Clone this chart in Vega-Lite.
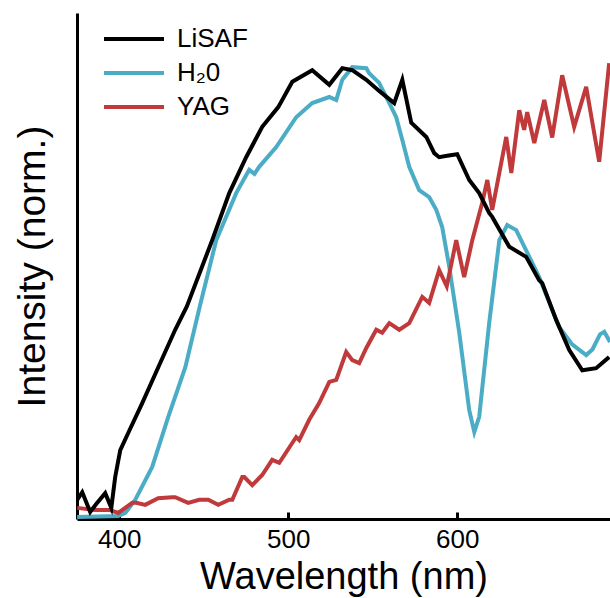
{
  "$schema": "https://vega.github.io/schema/vega-lite/v6.json",
  "width": 533,
  "height": 506,
  "autosize": "none",
  "padding": {"left": 77, "top": 13, "right": 0, "bottom": 79},
  "background": "white",
  "config": {
    "view": {"stroke": null},
    "font": "Liberation Sans",
    "axis": {"grid": false, "domainColor": "black", "domainWidth": 3, "tickColor": "black", "tickWidth": 3, "labelColor": "black", "titleColor": "black", "titleFontWeight": "normal", "labelFont": "Liberation Sans", "titleFont": "Liberation Sans"}
  },
  "data": {"values": [
    {"s":"H₂0","x":375.1,"y":0.004},{"s":"H₂0","x":399.4,"y":0.006},{"s":"H₂0","x":403.6,"y":0.012},{"s":"H₂0","x":409.5,"y":0.038},{"s":"H₂0","x":419.5,"y":0.103},{"s":"H₂0","x":429.0,"y":0.202},{"s":"H₂0","x":439.1,"y":0.300},{"s":"H₂0","x":448.0,"y":0.425},{"s":"H₂0","x":457.4,"y":0.551},{"s":"H₂0","x":469.2,"y":0.644},{"s":"H₂0","x":476.9,"y":0.690},{"s":"H₂0","x":480.0,"y":0.682},{"s":"H₂0","x":482.8,"y":0.696},{"s":"H₂0","x":492.9,"y":0.735},{"s":"H₂0","x":504.7,"y":0.794},{"s":"H₂0","x":514.2,"y":0.822},{"s":"H₂0","x":524.3,"y":0.834},{"s":"H₂0","x":528.4,"y":0.828},{"s":"H₂0","x":532.0,"y":0.868},{"s":"H₂0","x":537.9,"y":0.893},{"s":"H₂0","x":546.2,"y":0.891},{"s":"H₂0","x":547.9,"y":0.881},{"s":"H₂0","x":553.8,"y":0.862},{"s":"H₂0","x":559.8,"y":0.822},{"s":"H₂0","x":563.9,"y":0.794},{"s":"H₂0","x":567.5,"y":0.749},{"s":"H₂0","x":571.6,"y":0.696},{"s":"H₂0","x":577.5,"y":0.650},{"s":"H₂0","x":583.4,"y":0.636},{"s":"H₂0","x":587.6,"y":0.611},{"s":"H₂0","x":591.1,"y":0.577},{"s":"H₂0","x":595.3,"y":0.498},{"s":"H₂0","x":601.2,"y":0.368},{"s":"H₂0","x":607.1,"y":0.215},{"s":"H₂0","x":610.1,"y":0.172},{"s":"H₂0","x":613.0,"y":0.202},{"s":"H₂0","x":618.9,"y":0.387},{"s":"H₂0","x":624.9,"y":0.551},{"s":"H₂0","x":629.6,"y":0.581},{"s":"H₂0","x":634.9,"y":0.571},{"s":"H₂0","x":648.5,"y":0.478},{"s":"H₂0","x":660.4,"y":0.379},{"s":"H₂0","x":668.0,"y":0.345},{"s":"H₂0","x":676.3,"y":0.324},{"s":"H₂0","x":680.0,"y":0.335},{"s":"H₂0","x":684.5,"y":0.365},{"s":"H₂0","x":687.0,"y":0.370},{"s":"H₂0","x":690.4,"y":0.350},
    {"s":"YAG","x":375.1,"y":0.022},{"s":"YAG","x":385.8,"y":0.018},{"s":"YAG","x":394.1,"y":0.018},{"s":"YAG","x":399.4,"y":0.012},{"s":"YAG","x":407.7,"y":0.032},{"s":"YAG","x":410.1,"y":0.032},{"s":"YAG","x":415.4,"y":0.028},{"s":"YAG","x":423.0,"y":0.041},{"s":"YAG","x":431.4,"y":0.043},{"s":"YAG","x":433.1,"y":0.043},{"s":"YAG","x":440.8,"y":0.032},{"s":"YAG","x":447.3,"y":0.038},{"s":"YAG","x":452.7,"y":0.038},{"s":"YAG","x":458.6,"y":0.028},{"s":"YAG","x":465.1,"y":0.038},{"s":"YAG","x":466.9,"y":0.038},{"s":"YAG","x":472.8,"y":0.083},{"s":"YAG","x":474.0,"y":0.083},{"s":"YAG","x":478.7,"y":0.067},{"s":"YAG","x":484.6,"y":0.087},{"s":"YAG","x":490.5,"y":0.117},{"s":"YAG","x":494.7,"y":0.111},{"s":"YAG","x":504.7,"y":0.162},{"s":"YAG","x":506.5,"y":0.156},{"s":"YAG","x":512.4,"y":0.196},{"s":"YAG","x":518.3,"y":0.229},{"s":"YAG","x":524.3,"y":0.271},{"s":"YAG","x":528.4,"y":0.275},{"s":"YAG","x":534.3,"y":0.330},{"s":"YAG","x":537.9,"y":0.314},{"s":"YAG","x":542.0,"y":0.308},{"s":"YAG","x":546.2,"y":0.338},{"s":"YAG","x":552.1,"y":0.374},{"s":"YAG","x":555.6,"y":0.368},{"s":"YAG","x":559.8,"y":0.387},{"s":"YAG","x":565.7,"y":0.374},{"s":"YAG","x":571.6,"y":0.387},{"s":"YAG","x":579.3,"y":0.439},{"s":"YAG","x":583.4,"y":0.427},{"s":"YAG","x":589.3,"y":0.492},{"s":"YAG","x":593.8,"y":0.460},{"s":"YAG","x":599.4,"y":0.551},{"s":"YAG","x":604.1,"y":0.478},{"s":"YAG","x":608.9,"y":0.551},{"s":"YAG","x":614.8,"y":0.625},{"s":"YAG","x":617.8,"y":0.670},{"s":"YAG","x":620.7,"y":0.611},{"s":"YAG","x":629.0,"y":0.755},{"s":"YAG","x":632.0,"y":0.684},{"s":"YAG","x":636.7,"y":0.808},{"s":"YAG","x":639.6,"y":0.769},{"s":"YAG","x":641.4,"y":0.804},{"s":"YAG","x":645.6,"y":0.743},{"s":"YAG","x":651.5,"y":0.828},{"s":"YAG","x":656.2,"y":0.754},{"s":"YAG","x":662.1,"y":0.877},{"s":"YAG","x":669.2,"y":0.775},{"s":"YAG","x":676.3,"y":0.854},{"s":"YAG","x":684.0,"y":0.706},{"s":"YAG","x":689.9,"y":0.901},
    {"s":"LiSAF","x":375.1,"y":0.038},{"s":"LiSAF","x":378.1,"y":0.053},{"s":"LiSAF","x":382.8,"y":0.014},{"s":"LiSAF","x":386.5,"y":0.030},{"s":"LiSAF","x":391.7,"y":0.051},{"s":"LiSAF","x":395.3,"y":0.022},{"s":"LiSAF","x":397.6,"y":0.083},{"s":"LiSAF","x":400.6,"y":0.136},{"s":"LiSAF","x":405.3,"y":0.170},{"s":"LiSAF","x":413.6,"y":0.229},{"s":"LiSAF","x":423.1,"y":0.300},{"s":"LiSAF","x":433.1,"y":0.374},{"s":"LiSAF","x":440.0,"y":0.420},{"s":"LiSAF","x":455.0,"y":0.551},{"s":"LiSAF","x":465.1,"y":0.644},{"s":"LiSAF","x":475.1,"y":0.715},{"s":"LiSAF","x":484.6,"y":0.775},{"s":"LiSAF","x":494.1,"y":0.814},{"s":"LiSAF","x":502.4,"y":0.864},{"s":"LiSAF","x":514.2,"y":0.887},{"s":"LiSAF","x":524.3,"y":0.858},{"s":"LiSAF","x":532.0,"y":0.891},{"s":"LiSAF","x":537.9,"y":0.887},{"s":"LiSAF","x":546.2,"y":0.868},{"s":"LiSAF","x":553.8,"y":0.846},{"s":"LiSAF","x":562.7,"y":0.822},{"s":"LiSAF","x":567.5,"y":0.868},{"s":"LiSAF","x":572.8,"y":0.783},{"s":"LiSAF","x":581.7,"y":0.755},{"s":"LiSAF","x":586.4,"y":0.723},{"s":"LiSAF","x":589.3,"y":0.715},{"s":"LiSAF","x":594.0,"y":0.718},{"s":"LiSAF","x":600.0,"y":0.721},{"s":"LiSAF","x":607.1,"y":0.670},{"s":"LiSAF","x":613.0,"y":0.644},{"s":"LiSAF","x":618.9,"y":0.605},{"s":"LiSAF","x":620.7,"y":0.597},{"s":"LiSAF","x":630.8,"y":0.538},{"s":"LiSAF","x":640.8,"y":0.518},{"s":"LiSAF","x":648.5,"y":0.472},{"s":"LiSAF","x":650.3,"y":0.466},{"s":"LiSAF","x":658.6,"y":0.393},{"s":"LiSAF","x":666.3,"y":0.334},{"s":"LiSAF","x":674.0,"y":0.294},{"s":"LiSAF","x":682.2,"y":0.298},{"s":"LiSAF","x":689.9,"y":0.320}
  ]},
  "mark": {"type": "line", "strokeWidth": 4, "clip": true},
  "encoding": {
    "x": {"field": "x", "type": "quantitative", "scale": {"domain": [375, 690.4], "nice": false, "zero": false},
      "axis": {"title": "Wavelength (nm)", "values": [400, 500, 600], "tickSize": -7, "labelPadding": 14, "labelFontSize": 26, "titleFontSize": 38, "titlePadding": 6, "labelFlush": false}},
    "y": {"field": "y", "type": "quantitative", "scale": {"domain": [0, 1], "nice": false},
      "axis": {"title": "Intensity (norm.)", "labels": false, "ticks": false, "titleFontSize": 39, "titlePadding": 25}},
    "color": {"field": "s", "type": "nominal",
      "scale": {"domain": ["LiSAF", "H₂0", "YAG"], "range": ["#000000", "#4bacc6", "#c0393b"]},
      "legend": {"title": null, "orient": "none", "legendX": 44, "legendY": 13, "padding": 0, "symbolType": "M-3,0H3", "symbolSize": 400, "symbolStrokeWidth": 4, "labelFontSize": 26, "labelOffset": 30, "labelColor": "black", "rowPadding": 8, "labelFont": "Liberation Sans"}}
  }
}
